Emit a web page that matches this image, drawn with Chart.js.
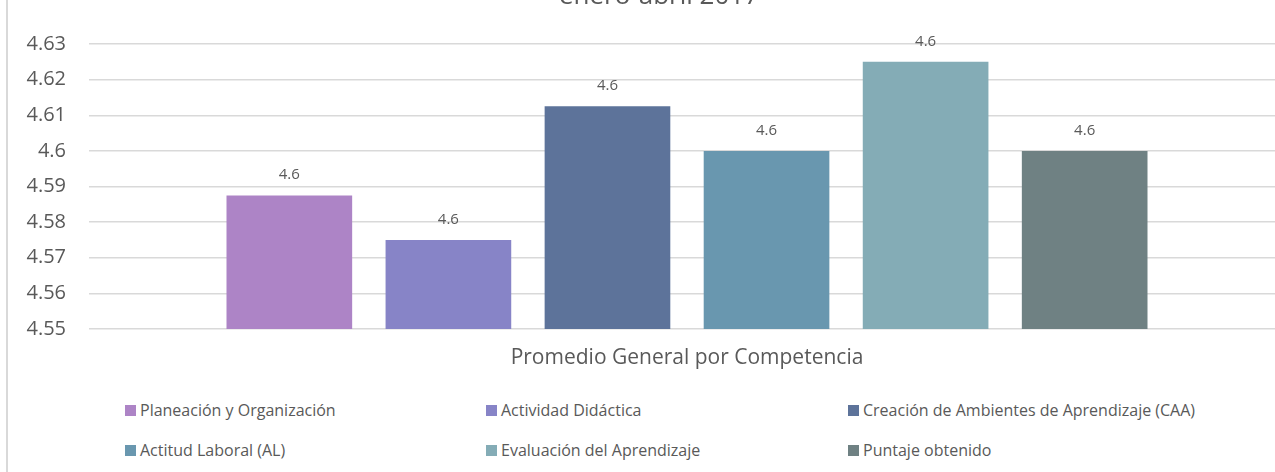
<!DOCTYPE html>
<html>
<head>
<meta charset="utf-8">
<script src="https://cdn.jsdelivr.net/npm/chart.js@4/dist/chart.umd.min.js"></script>
<style>
  html, body { margin: 0; overflow: hidden; }
  body { width: 1275px; height: 472px; background: #fff; font-family: "Open Sans", sans-serif; }
  .wrap { position: relative; width: 1275px; height: 472px; overflow: hidden; }
  .frame { position: absolute; left: 6px; top: 0; width: 2px; height: 472px; background: #d9d9d9; }
  canvas { position: absolute; left: 0; top: 0; }
  .legend { position: absolute; left: 125px; top: 400px; display: grid; grid-template-columns: 361px 362px auto; grid-auto-rows: 40px; }
  .legend .item { display: flex; align-items: center; height: 20px; font-size: 16px; color: #595959; white-space: nowrap; }
  .legend .box { width: 11px; height: 11px; margin-right: 4px; flex: none; }
</style>
</head>
<body>
<div class="wrap">
  <div class="frame"></div>
  <!-- canvas a bit wider than the page: the plot area runs past the right edge -->
  <canvas id="myChart" width="1285" height="385"></canvas>
  <div class="legend" id="legend"></div>
</div>
<script>
const chartTitle = 'enero-abril 2017';
const categories = ['Promedio General por Competencia'];
const seriesNames = [
  'Planeación y Organización',
  'Actividad Didáctica',
  'Creación de Ambientes de Aprendizaje (CAA)',
  'Actitud Laboral (AL)',
  'Evaluación del Aprendizaje',
  'Puntaje obtenido'
];
const seriesValues = [4.5875, 4.575, 4.6125, 4.6, 4.625, 4.6];
const seriesColors = ['#AD84C6', '#8784C7', '#5D739A', '#6997AF', '#84ACB6', '#6F8183'];
const yTickLabels = ['4.55', '4.56', '4.57', '4.58', '4.59', '4.6', '4.61', '4.62', '4.63'];

const textColor = '#595959';
const fontName = 'Open Sans';

// value labels above bars + cut-off title
const barLabels = {
  id: 'barLabels',
  afterDatasetsDraw(chart) {
    const ctx = chart.ctx;
    ctx.save();
    ctx.fillStyle = textColor;
    ctx.font = '15px "Open Sans"';
    ctx.textAlign = 'center';
    ctx.textBaseline = 'alphabetic';
    chart.data.datasets.forEach((ds, i) => {
      chart.getDatasetMeta(i).data.forEach((bar, j) => {
        ctx.fillText(ds.data[j].toFixed(1), bar.x, bar.y - 16);
      });
    });
    ctx.font = '26px "Open Sans"';
    ctx.fillText(chartTitle, 659, 4);
    ctx.restore();
  }
};

const datasets = seriesNames.map((name, i) => ({
  label: name,
  data: [seriesValues[i]],
  backgroundColor: seriesColors[i],
  barPercentage: 0.79,
  categoryPercentage: 0.798
}));

const ctx = document.getElementById('myChart');

new Chart(ctx, {
  type: 'bar',
  data: { labels: categories, datasets: datasets },
  options: {
    responsive: false,
    animation: false,
    devicePixelRatio: 1,
    layout: { padding: { top: 44, right: 0, bottom: 0, left: 0 } },
    plugins: {
      legend: { display: false },
      title: { display: false },
      tooltip: { enabled: false }
    },
    scales: {
      x: {
        grid: { display: false },
        border: { display: false },
        ticks: { color: textColor, font: { family: fontName, size: 21 }, padding: 8 },
        afterFit(scale) { scale.height = 56; }
      },
      y: {
        min: 4.55,
        max: 4.63,
        grid: { color: '#d9d9d9', lineWidth: 1.5, drawTicks: false },
        border: { display: false },
        ticks: {
          stepSize: 0.01,
          color: textColor,
          font: { family: fontName, size: 20 },
          padding: 23,
          callback: (v, i) => yTickLabels[i]
        },
        afterFit(scale) { scale.width = 89; }
      }
    }
  },
  plugins: [barLabels]
});

const legendEl = document.getElementById('legend');
seriesNames.forEach((name, i) => {
  const item = document.createElement('div');
  item.className = 'item';
  const box = document.createElement('span');
  box.className = 'box';
  box.style.background = seriesColors[i];
  const txt = document.createElement('span');
  txt.textContent = name;
  item.appendChild(box);
  item.appendChild(txt);
  legendEl.appendChild(item);
});
</script>
</body>
</html>
